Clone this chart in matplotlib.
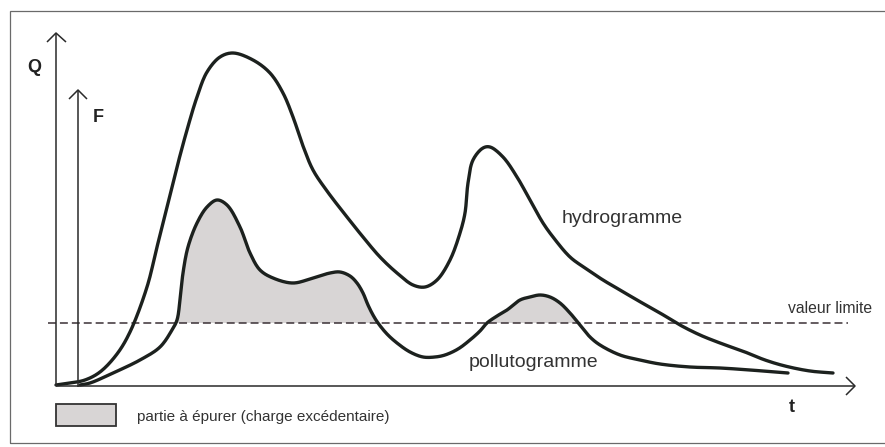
import numpy as np
import matplotlib
matplotlib.use("Agg")
import matplotlib.pyplot as plt
from matplotlib.patches import Rectangle

plt.rcParams['font.family'] = ['Liberation Sans', 'DejaVu Sans']

# ---- data (time, value) ----
hydro_t = [0, 14, 29, 44, 61, 74, 91, 101, 111, 121, 131, 141, 151, 164, 177, 197, 214,
           227, 237, 247, 257, 271, 291, 307, 324, 341, 357, 369, 381, 394, 404, 409, 412,
           417, 427, 434, 447, 461, 474, 487, 497, 514, 529, 547, 564, 581, 604, 624, 644,
           664, 689, 709, 729, 754, 777]
hydro_q = [1, 3, 6, 14, 32, 54, 99, 139, 179, 219, 256, 289, 314, 329, 333, 326, 313,
           293, 269, 240, 216, 195, 169, 149, 129, 113, 101, 99, 106, 126, 153, 173, 203,
           226, 238, 239, 229, 209, 186, 163, 149, 129, 118, 106, 96, 86, 73, 61, 51,
           43, 34, 26, 20, 15, 13]

pollu_t = [24, 34, 57, 84, 104, 116, 121, 124, 127, 132, 141, 151, 161, 171, 184, 194, 204,
           217, 237, 257, 274, 284, 294, 301, 307, 312, 317, 322, 331, 341, 354, 367, 379,
           389, 402, 414, 424, 431, 441, 451, 464, 474, 484, 494, 504, 514, 524, 534, 544,
           564, 584, 604, 634, 664, 694, 732]
pollu_f = [1, 3, 13, 26, 39, 56, 66, 86, 113, 139, 163, 179, 186, 181, 159, 133, 116,
           108, 103, 108, 113, 114, 110, 103, 93, 81, 71, 63, 52, 43, 34, 29, 29,
           31, 37, 46, 55, 63, 70, 76, 86, 89, 91, 89, 83, 73, 61, 49, 41,
           31, 26, 22, 19, 18, 16, 13]

threshold = 63

labels = {"Q": "Q", "F": "F", "t": "t"}
curve_names = ["hydrogramme", "pollutogramme"]
limit_label = "valeur limite"
legend_label = "partie à épurer (charge excédentaire)"


def smooth(x, y, n=16):
    """Centripetal Catmull-Rom rendering through the read points."""
    p = np.column_stack([x, y]).astype(float)
    p = np.vstack([2 * p[0] - p[1], p, 2 * p[-1] - p[-2]])
    out = []
    for i in range(1, len(p) - 2):
        P0, P1, P2, P3 = p[i - 1], p[i], p[i + 1], p[i + 2]
        t0 = 0.0
        t1 = t0 + np.linalg.norm(P1 - P0) ** 0.5
        t2 = t1 + np.linalg.norm(P2 - P1) ** 0.5
        t3 = t2 + np.linalg.norm(P3 - P2) ** 0.5
        t = np.linspace(t1, t2, n, endpoint=False)[:, None]
        A1 = (t1 - t) / (t1 - t0) * P0 + (t - t0) / (t1 - t0) * P1
        A2 = (t2 - t) / (t2 - t1) * P1 + (t - t1) / (t2 - t1) * P2
        A3 = (t3 - t) / (t3 - t2) * P2 + (t - t2) / (t3 - t2) * P3
        B1 = (t2 - t) / (t2 - t0) * A1 + (t - t0) / (t2 - t0) * A2
        B2 = (t3 - t) / (t3 - t1) * A2 + (t - t1) / (t3 - t1) * A3
        C = (t2 - t) / (t2 - t1) * B1 + (t - t1) / (t2 - t1) * B2
        out.append(C)
    out.append(p[-2][None, :])
    c = np.vstack(out)
    return c[:, 0], c[:, 1]


fig = plt.figure(figsize=(8.85, 4.47), dpi=100)
ax = fig.add_axes([0, 0, 1, 1])
ax.set_xlim(-56, 829)
ax.set_ylim(-61, 386)
ax.axis('off')

line_col = '#1c211e'
ax_col = '#2a2a2a'

# outer frame
ax.add_patch(Rectangle((-46, -57), 900, 432, fill=False, edgecolor='#6a6a6a', lw=0.9, clip_on=False))

hx, hy = smooth(hydro_t, hydro_q)
px, py = smooth(pollu_t, pollu_f)

# shaded excess
order = np.argsort(px, kind='stable')
ax.fill_between(px[order], py[order], threshold, where=py[order] > threshold, interpolate=True,
                color='#d8d5d5', lw=0, zorder=1)

# threshold line
ax.plot([-8, 792], [threshold, threshold], color='#3a3035', lw=1.1, dashes=(5.2, 2.6), zorder=2)

# curves
ax.plot(hx, hy, color=line_col, lw=2.4, solid_capstyle='round', solid_joinstyle='round', zorder=3)
ax.plot(px, py, color=line_col, lw=2.4, solid_capstyle='round', solid_joinstyle='round', zorder=3)

# axes with open arrowheads
axkw = dict(color=ax_col, lw=1.1, solid_capstyle='butt', zorder=4)
ax.plot([0, 0], [0, 353], **axkw)
ax.plot([-9, 0, 10], [344, 353, 344], **axkw)
ax.plot([22, 22], [-0.5, 296], **axkw)
ax.plot([13, 22, 31], [287, 296, 287], **axkw)
ax.plot([0, 799], [0, 0], **axkw)
ax.plot([790, 799, 790], [9, 0, -9], **axkw)

# labels
bold = dict(fontsize=13, fontweight='bold', color='#222222', ha='center', va='center')
ax.text(-22, 318, labels["Q"], **bold)
ax.text(42, 269, labels["F"], **bold)
ax.text(736, -22, labels["t"], **bold)

txt = dict(color='#333333', va='baseline', ha='left')
ax.text(506, 163, curve_names[0], fontsize=14, **txt)
ax.text(413, 19, curve_names[1], fontsize=14, **txt)
ax.text(732, 73, limit_label, fontsize=11.3, **txt)
ax.text(81, -35, legend_label, fontsize=11, **txt)

# legend swatch
ax.add_patch(Rectangle((0, -40), 60, 22, facecolor='#d8d5d5', edgecolor='#333333', lw=1.3))

fig.savefig('out.png', dpi=100)
